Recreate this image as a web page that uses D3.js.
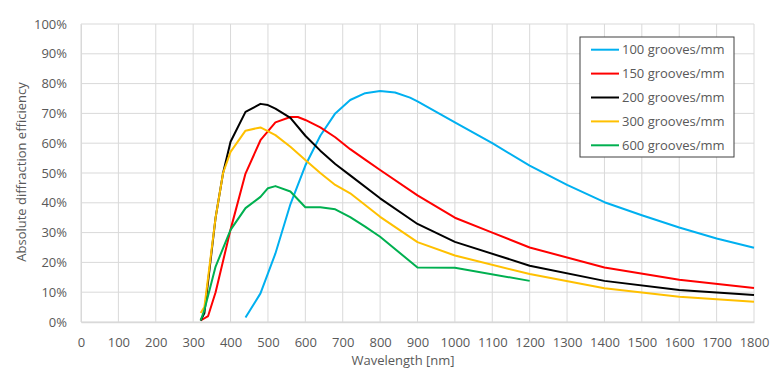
<!DOCTYPE html>
<html>
<head>
<meta charset="utf-8">
<script src="https://cdn.jsdelivr.net/npm/d3@7"></script>
<style>
  body { margin: 0; background: #fff; }
  svg text { font-family: "Open Sans", "Noto Sans", sans-serif; fill: #595959; }
</style>
</head>
<body>
<div id="chart"></div>
<script>
// data, [wavelength nm, efficiency %]
const g100 = [[440,1.5],[480,9.6],[520,23],[560,39.5],[600,52.5],[640,62.5],[680,70],[720,74.5],[760,76.8],[800,77.5],[840,77],[880,75.3],[900,74],[1000,67],[1100,60],[1200,52.5],[1300,46],[1400,40.2],[1500,35.8],[1600,31.7],[1700,28],[1800,24.9]];
const g150 = [[320,0.5],[340,2],[360,10],[400,31],[440,49.8],[480,61],[520,67],[560,68.8],[580,68.8],[600,67.8],[640,65.3],[680,62],[720,58],[760,54.5],[800,51],[900,42.5],[1000,35],[1100,30],[1200,25],[1400,18.3],[1600,14.2],[1800,11.4]];
const g200 = [[320,0.5],[330,3],[360,35],[380,50],[400,60.5],[440,70.5],[480,73.2],[500,72.8],[520,71.6],[560,68.5],[600,62.5],[640,57.5],[680,53],[720,49.2],[800,41.5],[900,32.9],[1000,26.9],[1200,18.9],[1400,13.8],[1600,10.7],[1800,9.1]];
const g300 = [[320,3],[330,5],[360,35],[380,50],[400,57.1],[440,64.2],[480,65.3],[520,62.7],[560,58.8],[600,54.4],[640,50],[680,46],[720,43.2],[800,35.3],[900,26.8],[1000,22.3],[1200,16.1],[1400,11.3],[1600,8.5],[1800,6.8]];
const g600 = [[320,0.5],[330,4],[360,18.6],[400,30.9],[440,38.2],[480,42],[500,44.9],[520,45.6],[560,43.8],[600,38.5],[640,38.5],[680,37.8],[720,35.2],[760,32],[800,28.6],[900,18.3],[1000,18.2],[1200,13.8]];

const seriesNames = ["100 grooves/mm", "150 grooves/mm", "200 grooves/mm", "300 grooves/mm", "600 grooves/mm"];
const seriesData = [g100, g150, g200, g300, g600];
const seriesColors = ["#00b0f0", "#ff0000", "#000000", "#ffc000", "#00b050"];

const xTicks = d3.range(0, 1801, 100);
const yTicks = d3.range(0, 101, 10);

const W = 780, H = 375;
const margin = {top: 24, right: 26, bottom: 53, left: 81};
const width = W - margin.left - margin.right;
const height = H - margin.top - margin.bottom;

const svg = d3.select("#chart").append("svg")
    .attr("width", W)
    .attr("height", H);

const g = svg.append("g")
    .attr("transform", "translate(" + margin.left + "," + margin.top + ")");

const x = d3.scaleLinear().domain([0, 1800]).range([0, width]);
const y = d3.scaleLinear().domain([0, 100]).range([height, 0]);

// grid
g.append("g").selectAll("line.v")
    .data(xTicks)
    .enter().append("line")
    .attr("x1", d => x(d)).attr("x2", d => x(d))
    .attr("y1", 0).attr("y2", height)
    .attr("stroke", "#d9d9d9").attr("stroke-width", 1);

g.append("g").selectAll("line.h")
    .data(yTicks)
    .enter().append("line")
    .attr("x1", 0).attr("x2", width)
    .attr("y1", d => y(d)).attr("y2", d => y(d))
    .attr("stroke", "#d9d9d9").attr("stroke-width", 1);

// axes
const xAxis = d3.axisBottom(x).tickValues(xTicks).tickSize(0).tickPadding(16).tickFormat(d3.format("d"));
const yAxis = d3.axisLeft(y).tickValues(yTicks).tickSize(0).tickPadding(14).tickFormat(d => d + "%");

g.append("g")
    .attr("class", "x-axis")
    .attr("transform", "translate(0," + height + ")")
    .call(xAxis)
    .call(a => a.select(".domain").attr("stroke", "#d9d9d9").attr("stroke-width", 1.5));

g.append("g")
    .attr("class", "y-axis")
    .call(yAxis)
    .call(a => a.select(".domain").attr("stroke", "#d9d9d9"));

g.selectAll(".x-axis text, .y-axis text")
    .attr("font-size", "13px")
    .attr("fill", "#595959")
    .attr("font-family", "Open Sans, Noto Sans, sans-serif");

// lines
const line = d3.line().x(d => x(d[0])).y(d => y(d[1]));

g.selectAll(".series")
    .data(seriesData)
    .enter().append("path")
    .attr("class", "series")
    .attr("d", d => line(d))
    .attr("fill", "none")
    .attr("stroke", (d, i) => seriesColors[i])
    .attr("stroke-width", 2)
    .attr("stroke-linejoin", "round");

// axis titles
svg.append("text")
    .attr("x", 403)
    .attr("y", 365)
    .attr("text-anchor", "middle")
    .attr("font-size", "13px")
    .text("Wavelength [nm]");

svg.append("text")
    .attr("transform", "translate(26,172) rotate(-90)")
    .attr("text-anchor", "middle")
    .attr("font-size", "13px")
    .text("Absolute diffraction efficiency");

// legend
const legend = svg.append("g").attr("transform", "translate(580,37)");
legend.append("rect")
    .attr("width", 154).attr("height", 120)
    .attr("fill", "#fff")
    .attr("stroke", "#404040").attr("stroke-width", 1);

const items = legend.selectAll(".item")
    .data(seriesNames)
    .enter().append("g")
    .attr("transform", (d, i) => "translate(0," + (12.7 + i * 23.9) + ")");

items.append("line")
    .attr("x1", 11).attr("x2", 39)
    .attr("stroke", (d, i) => seriesColors[i])
    .attr("stroke-width", 2);

items.append("text")
    .attr("x", 42)
    .attr("dy", "0.35em")
    .attr("font-size", "13px")
    .text(d => d);
</script>
</body>
</html>
